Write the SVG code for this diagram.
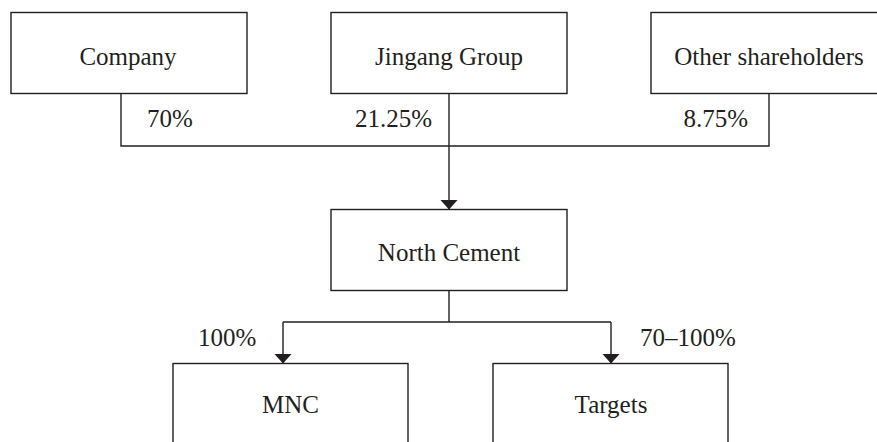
<svg xmlns="http://www.w3.org/2000/svg" width="877" height="442" viewBox="0 0 877 442">
<style>
rect{fill:#fff;stroke:#231f20;stroke-width:1.4}
text{font-family:"Liberation Serif","Times New Roman",serif;font-size:25px;fill:#231f20}
.c{text-anchor:middle}
.ln{fill:none;stroke:#231f20;stroke-width:1.4}
.ar{marker-end:url(#ah)}
</style>
<defs>
<marker id="ah" viewBox="0 0 10 18" refX="10" refY="9" markerWidth="10" markerHeight="18" markerUnits="userSpaceOnUse" orient="auto">
<path d="M0,0 L10,9 L0,18 Z" fill="#231f20"/>
</marker>
</defs>
<g id="company"><rect x="11" y="12.5" width="236" height="81"/><text class="c" x="128" y="65">Company</text></g>
<g id="jingang"><rect x="331" y="12.5" width="236" height="81"/><text class="c" x="449" y="65">Jingang Group</text></g>
<g id="other"><rect x="651" y="12.5" width="240" height="81"/><text class="c" x="769" y="65">Other shareholders</text></g>
<g id="north"><rect x="331" y="209.5" width="236" height="81"/><text class="c" x="449" y="261">North Cement</text></g>
<g id="mnc"><rect x="173" y="363.5" width="235" height="90"/><text class="c" x="290.5" y="413">MNC</text></g>
<g id="targets"><rect x="493" y="363.5" width="235" height="90"/><text class="c" x="611" y="413">Targets</text></g>
<g id="connectors">
<path class="ln" d="M121,93.5 V146 H769 V93.5"/>
<path class="ln ar" d="M449,93.5 V209.5"/>
<path class="ln" d="M449,290.5 V322 H283 M449,322 H611"/>
<path class="ln ar" d="M283,322 V363.5"/>
<path class="ln ar" d="M611,322 V363.5"/>
</g>
<g id="labels">
<text x="147" y="127">70%</text>
<text x="432" y="127" text-anchor="end">21.25%</text>
<text x="748" y="127" text-anchor="end">8.75%</text>
<text x="198" y="346">100%</text>
<text x="640" y="346">70–100%</text>
</g>
</svg>
